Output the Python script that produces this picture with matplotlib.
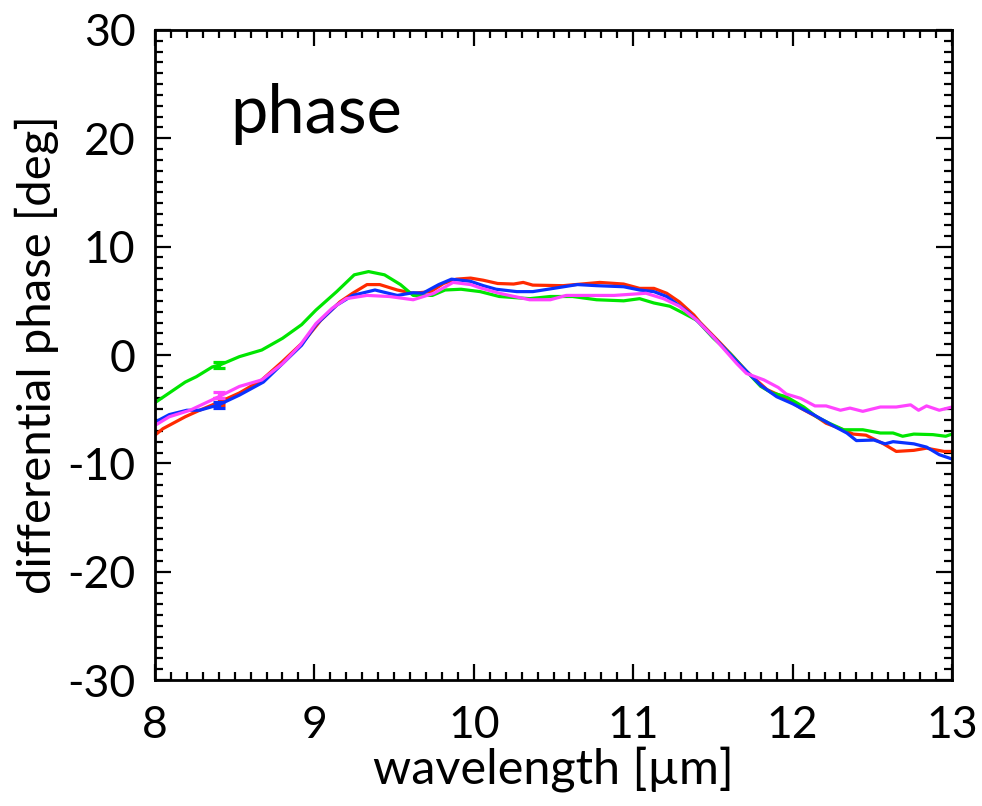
#!/usr/bin/env python3

import numpy as np
import matplotlib
matplotlib.use('Agg')
import matplotlib.pyplot as plt
from matplotlib.ticker import MultipleLocator

plt.rcParams['font.family'] = ['Lato', 'DejaVu Sans']
plt.rcParams['axes.unicode_minus'] = False

# wavelength [um] and differential phase [deg]
wl_red = [8.00, 8.05, 8.19, 8.28, 8.41, 8.53, 8.67, 8.80, 8.93, 9.04, 9.16, 9.24,
          9.33, 9.41, 9.52, 9.62, 9.73, 9.81, 9.89, 9.98, 10.06, 10.15, 10.25,
          10.31, 10.37, 10.56, 10.79, 10.94, 11.04, 11.13, 11.21, 11.29, 11.38,
          11.42, 11.54, 11.63, 11.71, 11.84, 11.96, 12.05, 12.15, 12.21, 12.30,
          12.38, 12.46, 12.57, 12.65, 12.76, 12.84, 12.95, 13.00]
ph_red = [-7.4, -6.8, -5.7, -5.1, -4.3, -3.5, -2.3, -0.6, 1.2, 3.2, 4.9, 5.7,
          6.5, 6.5, 6.0, 5.7, 5.85, 6.6, 7.0, 7.1, 6.9, 6.6, 6.55,
          6.7, 6.45, 6.4, 6.7, 6.55, 6.15, 6.15, 5.7, 4.9, 3.7,
          3.0, 1.2, -0.2, -1.5, -3.2, -4.0, -4.9, -5.7, -6.3, -6.8,
          -7.3, -7.4, -8.2, -8.9, -8.8, -8.6, -8.9, -8.9]

wl_green = [8.00, 8.19, 8.26, 8.36, 8.41, 8.53, 8.67, 8.80, 8.92, 9.01, 9.14,
            9.25, 9.34, 9.44, 9.54, 9.62, 9.74, 9.82, 9.92, 10.04, 10.16, 10.35,
            10.48, 10.62, 10.77, 10.94, 11.04, 11.13, 11.23, 11.31, 11.40, 11.50,
            11.61, 11.71, 11.80, 11.87, 11.96, 12.07, 12.15, 12.23, 12.32, 12.44,
            12.55, 12.63, 12.69, 12.76, 12.88, 12.96, 13.00]
ph_green = [-4.4, -2.5, -2.0, -1.1, -0.9, -0.15, 0.46, 1.54, 2.8, 4.15, 5.85,
            7.4, 7.7, 7.4, 6.5, 5.5, 5.5, 6.0, 6.07, 5.85, 5.4, 5.2,
            5.4, 5.4, 5.1, 5.0, 5.2, 4.8, 4.5, 3.9, 3.2, 1.6,
            0.1, -1.5, -2.9, -3.5, -3.85, -4.8, -5.7, -6.3, -6.9, -6.9,
            -7.2, -7.2, -7.5, -7.3, -7.35, -7.5, -7.3]

wl_blue = [8.00, 8.09, 8.20, 8.28, 8.40, 8.53, 8.68, 8.80, 8.92, 9.01, 9.14,
           9.24, 9.38, 9.52, 9.62, 9.68, 9.78, 9.86, 9.98, 10.06, 10.14, 10.27,
           10.37, 10.50, 10.65, 10.77, 10.94, 11.04, 11.13, 11.21, 11.34, 11.42,
           11.54, 11.67, 11.80, 11.90, 12.00, 12.13, 12.25, 12.34, 12.40, 12.51,
           12.58, 12.63, 12.76, 12.84, 12.92, 13.00]
ph_blue = [-6.2, -5.5, -5.1, -5.1, -4.6, -3.7, -2.5, -0.8, 0.9, 2.8, 4.6,
           5.5, 6.0, 5.5, 5.75, 5.7, 6.5, 7.0, 6.8, 6.4, 6.07, 5.85,
           5.85, 6.15, 6.5, 6.4, 6.3, 6.0, 5.85, 5.4, 4.0, 2.9,
           1.1, -0.9, -2.8, -3.85, -4.5, -5.5, -6.5, -7.2, -7.9, -7.85,
           -8.2, -8.0, -8.2, -8.5, -9.2, -9.6]

wl_magenta = [8.00, 8.09, 8.22, 8.40, 8.53, 8.67, 8.80, 8.91, 9.01, 9.11, 9.20,
              9.33, 9.47, 9.62, 9.75, 9.87, 9.98, 10.04, 10.16, 10.35, 10.48,
              10.58, 10.72, 10.88, 10.98, 11.08, 11.19, 11.29, 11.40, 11.50,
              11.65, 11.71, 11.82, 11.91, 11.96, 12.05, 12.14, 12.21, 12.30,
              12.36, 12.44, 12.55, 12.65, 12.74, 12.79, 12.84, 12.92, 13.00]
ph_magenta = [-6.5, -5.7, -5.1, -3.85, -2.9, -2.3, -0.8, 0.9, 2.9, 4.3, 5.2,
              5.5, 5.4, 5.1, 5.7, 6.7, 6.5, 6.2, 5.7, 5.1, 5.1,
              5.5, 5.5, 5.5, 5.6, 5.7, 5.2, 4.5, 3.2, 1.7,
              -0.8, -1.7, -2.3, -3.0, -3.6, -4.0, -4.7, -4.7, -5.1,
              -4.9, -5.2, -4.8, -4.8, -4.6, -5.1, -4.7, -5.1, -4.8]

# one error bar per curve near 8.4 um
err_wl = 8.4
err_ph = {'red': -4.3, 'green': -0.9, 'blue': -4.6, 'magenta': -3.7}
err_size = 0.3

colors = {'red': '#ff2a00', 'green': '#00e600', 'blue': '#0a32ff', 'magenta': '#ff44ff'}


def main():
    fig = plt.figure(figsize=(9.82, 8.06), dpi=100)
    ax = fig.add_axes([0.1578, 0.1563, 0.8117, 0.8065])

    series = [('red', wl_red, ph_red), ('green', wl_green, ph_green),
              ('blue', wl_blue, ph_blue), ('magenta', wl_magenta, ph_magenta)]
    for name, wl, ph in series:
        ax.plot(wl, ph, color=colors[name], lw=2.3, solid_joinstyle='round')
        ax.errorbar([err_wl], [err_ph[name]], yerr=[err_size], fmt='none',
                    ecolor=colors[name], elinewidth=2.3, capsize=4, capthick=2.3)

    ax.set_xlim(8, 13)
    ax.set_ylim(-30, 30)
    ax.xaxis.set_major_locator(MultipleLocator(1))
    ax.xaxis.set_minor_locator(MultipleLocator(0.1))
    ax.yaxis.set_major_locator(MultipleLocator(10))
    ax.yaxis.set_minor_locator(MultipleLocator(1))
    ax.tick_params(which='both', direction='in', top=True, right=True,
                   labelsize=32, width=1.6)
    ax.tick_params(axis='x', pad=18)
    ax.tick_params(axis='y', pad=14)
    ax.tick_params(which='major', length=11.5)
    ax.tick_params(which='minor', length=5.5)
    for s in ax.spines.values():
        s.set_linewidth(2)

    ax.set_xlabel('wavelength [µm]', fontsize=35, labelpad=0)
    ax.set_ylabel('differential phase [deg]', fontsize=34, labelpad=6)
    ax.text(0.095, 0.87, 'phase', transform=ax.transAxes, fontsize=48,
            ha='left', va='center')

    fig.savefig('out.png', dpi=100)


if __name__ == '__main__':
    main()
